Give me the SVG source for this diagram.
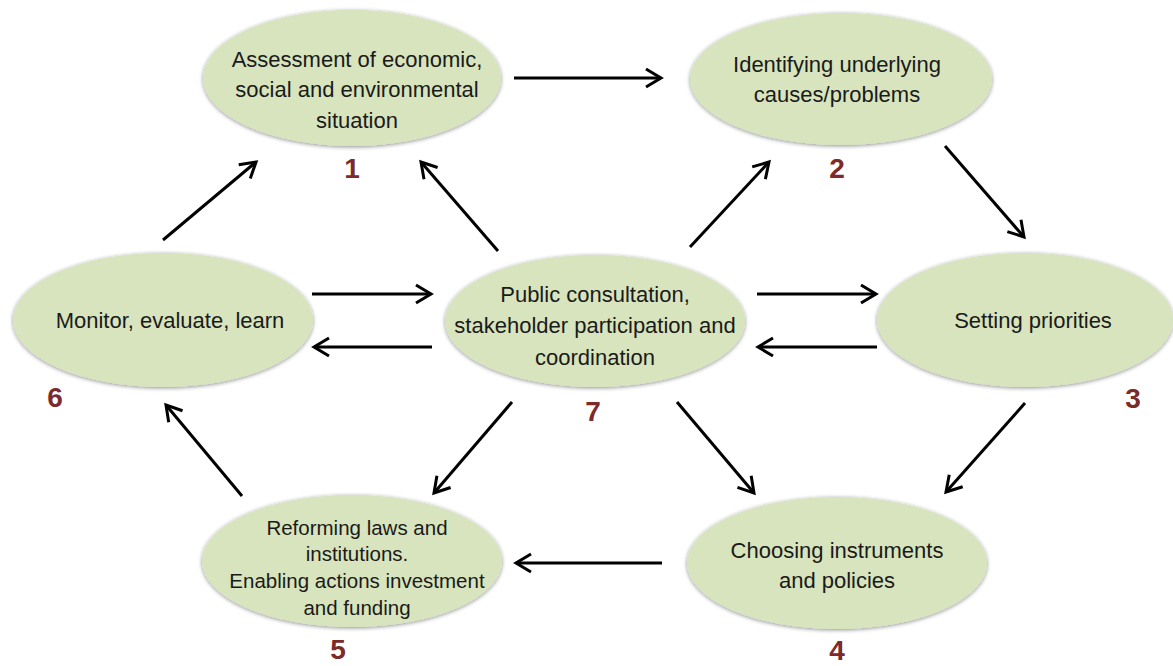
<svg xmlns="http://www.w3.org/2000/svg" width="1173" height="666" viewBox="0 0 1173 666">
<style>
.node ellipse{fill:#d7e4bd;filter:url(#sh);}
.t{font-family:"Liberation Sans",Arial,sans-serif;font-size:22px;fill:#1a1a1a;text-anchor:middle;}
.s{font-size:20.5px;}
.n{font-family:"Liberation Sans",Arial,sans-serif;font-size:28px;font-weight:bold;fill:#7b2b2b;text-anchor:middle;}
.c line{stroke:#000;stroke-width:3;marker-end:url(#ah);}
</style>
<defs>
<filter id="sh" x="-10%" y="-15%" width="120%" height="135%">
<feGaussianBlur in="SourceAlpha" stdDeviation="2.2"/>
<feOffset dx="0" dy="1" result="b"/>
<feComponentTransfer><feFuncA type="linear" slope="0.45"/></feComponentTransfer>
<feMerge><feMergeNode/><feMergeNode in="SourceGraphic"/></feMerge>
</filter>
<marker id="ah" markerUnits="userSpaceOnUse" markerWidth="24" markerHeight="24" viewBox="-20 -12 24 24" refX="0" refY="0" orient="auto">
<path d="M-15 -9 L0 0 L-15 9" fill="none" stroke="#000" stroke-width="3" stroke-linejoin="miter"/>
</marker>
</defs>
<rect width="1173" height="666" fill="#fff"/>
<g id="node1" class="node">
<ellipse cx="352" cy="78" rx="149" ry="68"/>
<text class="t" x="357" y="67">Assessment of economic,</text>
<text class="t" x="357" y="97">social and environmental</text>
<text class="t" x="357" y="128">situation</text>
<text class="n" x="352" y="178">1</text>
</g>
<g id="node2" class="node">
<ellipse cx="841" cy="79" rx="151" ry="66"/>
<text class="t" x="837" y="72">Identifying underlying</text>
<text class="t" x="837" y="102">causes/problems</text>
<text class="n" x="837" y="178">2</text>
</g>
<g id="node3" class="node">
<ellipse cx="1025" cy="320" rx="148" ry="67"/>
<text class="t" x="1033" y="328">Setting priorities</text>
<text class="n" x="1133" y="408">3</text>
</g>
<g id="node4" class="node">
<ellipse cx="837" cy="563" rx="150" ry="66"/>
<text class="t" x="837" y="558">Choosing instruments</text>
<text class="t" x="837" y="588">and policies</text>
<text class="n" x="837" y="660">4</text>
</g>
<g id="node5" class="node">
<ellipse cx="352" cy="561" rx="150" ry="66"/>
<text class="t s" x="357" y="535">Reforming laws and</text>
<text class="t s" x="357" y="561">institutions.</text>
<text class="t s" x="357" y="588">Enabling actions investment</text>
<text class="t s" x="357" y="615">and funding</text>
<text class="n" x="338" y="659">5</text>
</g>
<g id="node6" class="node">
<ellipse cx="163" cy="320" rx="150" ry="67"/>
<text class="t" x="170" y="328">Monitor, evaluate,  learn</text>
<text class="n" x="55" y="407">6</text>
</g>
<g id="node7" class="node">
<ellipse cx="595" cy="321" rx="150" ry="66"/>
<text class="t" x="595" y="302">Public consultation,</text>
<text class="t" x="595" y="333">stakeholder participation  and</text>
<text class="t" x="595" y="365">coordination</text>
<text class="n" x="593" y="421">7</text>
</g>
<g id="connectors" class="c">
<line x1="514" y1="78" x2="661" y2="78"/>
<line x1="945" y1="146" x2="1024" y2="237"/>
<line x1="1025" y1="403" x2="946" y2="492"/>
<line x1="662" y1="563" x2="516" y2="563"/>
<line x1="242" y1="496" x2="166" y2="405"/>
<line x1="163" y1="240" x2="256" y2="162"/>
<line x1="498" y1="251" x2="421" y2="162"/>
<line x1="690" y1="247" x2="769" y2="162"/>
<line x1="312" y1="294" x2="431" y2="294"/>
<line x1="432" y1="347" x2="314" y2="347"/>
<line x1="757" y1="294" x2="876" y2="294"/>
<line x1="877" y1="347" x2="758" y2="347"/>
<line x1="677" y1="402" x2="754" y2="493"/>
<line x1="512" y1="402" x2="434" y2="493"/>
</g>
</svg>
